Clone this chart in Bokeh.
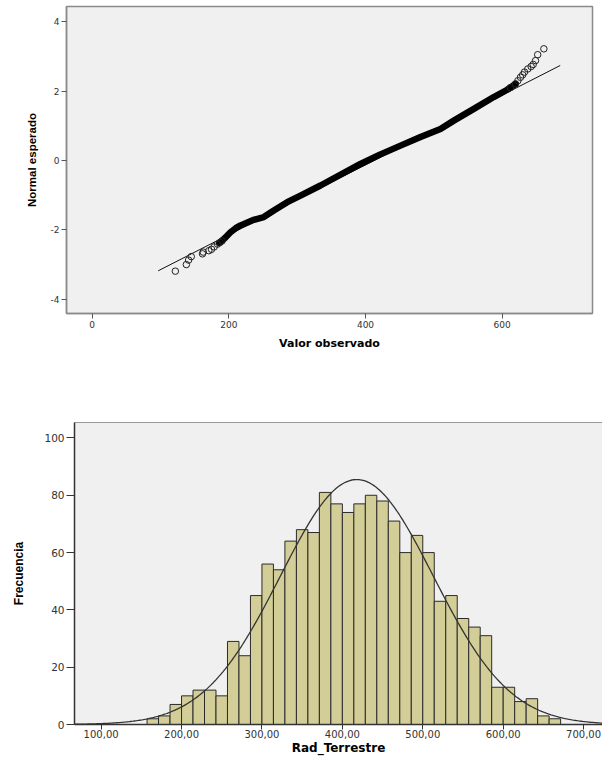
import numpy as np
from bokeh.plotting import figure
from bokeh.layouts import column
from bokeh.models import Range1d, FixedTicker, LinearAxis
from bokeh.embed import file_html
from bokeh.resources import INLINE

# ---------------- Normal Q-Q plot of Rad_Terrestre ----------------
# dense central stretch of the plotted points (observed value, expected normal)
qq_band_obs = [186.0, 195.0, 202.4, 210.0, 217.1, 236.5, 251.1, 265.8, 285.4, 304.8,
               334.1, 363.0, 392.6, 421.0, 451.2, 480.5, 509.7, 529.2, 558.5, 587.7,
               607.3, 619.5]
qq_band_exp = [-2.38, -2.22, -2.07, -1.95, -1.87, -1.71, -1.63, -1.44, -1.20, -1.01,
               -0.72, -0.41, -0.10, 0.17, 0.43, 0.68, 0.91, 1.15, 1.49, 1.83,
               2.04, 2.21]
# separated points in the lower tail
qq_low_obs = [121.7, 137.8, 141.1, 145.0, 161.4, 162.5, 170.7, 174.6, 178.5, 183.4, 187.0, 190.0]
qq_low_exp = [-3.19, -3.00, -2.87, -2.77, -2.69, -2.64, -2.60, -2.56, -2.49, -2.41, -2.36, -2.32]
# separated points in the upper tail
qq_high_obs = [612.0, 619.5, 623.0, 626.8, 630.0, 632.7, 637.5, 642.4, 645.4, 648.8, 652.0, 661.0]
qq_high_exp = [2.10, 2.21, 2.30, 2.40, 2.47, 2.55, 2.64, 2.71, 2.77, 2.88, 3.05, 3.22]
# reference line: expected = (observed - mean) / sd
qq_mean = 412.6
qq_sd = 99.4
qq_line_obs = [96.6, 684.9]

qq_x_ticks = [0, 200, 400, 600]
qq_y_ticks = [-4, -2, 0, 2, 4]
qq_y_labels = ["-4", "-2", "0", "2", "4"]

# ---------------- Histogram of Rad_Terrestre ----------------
bin_start = 157.142857
bin_width = 14.285714
counts = [2, 3, 7, 10, 12, 12, 10, 29, 24, 45, 56, 54, 64, 68, 67, 81, 77, 74,
          77, 80, 78, 71, 60, 66, 60, 43, 45, 37, 34, 31, 13, 13, 8, 9, 3, 2]
curve_mean = 418.0
curve_sd = 95.0

hist_x_ticks = [100, 200, 300, 400, 500, 600, 700]
hist_x_labels = ["100,00", "200,00", "300,00", "400,00", "500,00", "600,00", "700,00"]
hist_y_ticks = [0, 20, 40, 60, 80, 100]

NARROW = "Liberation Sans"
WIDE = "DejaVu Sans"


def style_axis(ax, line_color, tick_color, label_size, tick_out, label_standoff):
    ax.axis_line_color = line_color
    ax.axis_line_width = 1.5
    ax.major_tick_line_color = tick_color
    ax.major_tick_in = 0
    ax.major_tick_out = tick_out
    ax.minor_tick_line_color = None
    ax.major_label_text_font = WIDE
    ax.major_label_text_font_size = label_size
    ax.major_label_text_color = "#333333"
    ax.major_label_standoff = label_standoff
    ax.axis_label_text_color = "#000000"
    ax.axis_label_text_font_style = "bold"


# ---------- top figure ----------
p1 = figure(width=602, height=398,
            x_range=Range1d(-37.6, 732.2), y_range=Range1d(-4.41, 4.44),
            output_backend="svg", toolbar_location=None, frame_align=False,
            min_border_left=66, min_border_right=10,
            min_border_top=6, min_border_bottom=85)
p1.background_fill_color = "#f0f0f0"
p1.border_fill_color = "white"
p1.outline_line_color = "#8a8a8a"
p1.outline_line_width = 1.5
p1.xgrid.visible = False
p1.ygrid.visible = False

line_x = np.array(qq_line_obs)
p1.line(line_x, (line_x - qq_mean) / qq_sd, line_color="#111111", line_width=1)
p1.line(qq_band_obs, qq_band_exp, line_color="#000000", line_width=6.5,
        line_cap="round", line_join="round")
p1.scatter(qq_low_obs, qq_low_exp, marker="circle", size=6.5,
           fill_color=None, line_color="#222222", line_width=1)
p1.scatter(qq_high_obs, qq_high_exp, marker="circle", size=6.5,
           fill_color=None, line_color="#222222", line_width=1)

xa1 = p1.below[0]
ya1 = p1.left[0]
style_axis(xa1, "#8a8a8a", "#555555", "9px", 5, 2)
style_axis(ya1, "#8a8a8a", "#555555", "9px", 5, 2)
xa1.ticker = FixedTicker(ticks=qq_x_ticks)
ya1.ticker = FixedTicker(ticks=qq_y_ticks)
ya1.major_label_overrides = {t: s for t, s in zip(qq_y_ticks, qq_y_labels)}
xa1.axis_label = "Valor observado"
xa1.axis_label_text_font = WIDE
xa1.axis_label_text_font_size = "11px"
xa1.axis_label_standoff = 6
ya1.axis_label = "Normal esperado"
ya1.axis_label_text_font = NARROW
ya1.axis_label_text_font_size = "11.5px"
ya1.axis_label_standoff = 10

# ---------- bottom figure ----------
p2 = figure(width=602, height=359,
            x_range=Range1d(66.9, 723.5), y_range=Range1d(0, 105.4),
            output_backend="svg", toolbar_location=None, frame_align=False,
            min_border_left=74, min_border_right=0,
            min_border_top=24, min_border_bottom=32)
p2.background_fill_color = "#f0f0f0"
p2.border_fill_color = "white"
p2.outline_line_color = None
p2.xgrid.visible = False
p2.ygrid.visible = False

lefts = bin_start + bin_width * np.arange(len(counts))
p2.quad(left=lefts, right=lefts + bin_width, bottom=0, top=counts,
        fill_color="#d3ce97", line_color="#2b2b2b", line_width=1)

n_total = sum(counts)
cx = np.linspace(66.9, 723.5, 400)
cy = n_total * bin_width * np.exp(-0.5 * ((cx - curve_mean) / curve_sd) ** 2) / (curve_sd * np.sqrt(2 * np.pi))
p2.line(cx, cy, line_color="#333333", line_width=1.3)

xa2 = p2.below[0]
ya2 = p2.left[0]
style_axis(xa2, "#333333", "#333333", "10px", 5, 0)
style_axis(ya2, "#333333", "#333333", "10.5px", 8, 2)
xa2.ticker = FixedTicker(ticks=hist_x_ticks)
xa2.major_label_overrides = {t: s for t, s in zip(hist_x_ticks, hist_x_labels)}
xa2.axis_label = "Rad_Terrestre"
xa2.axis_label_text_font = WIDE
xa2.axis_label_text_font_size = "12px"
xa2.axis_label_standoff = 0
ya2.ticker = FixedTicker(ticks=hist_y_ticks)
ya2.axis_label = "Frecuencia"
ya2.axis_label_text_font = NARROW
ya2.axis_label_text_font_size = "12px"
ya2.axis_label_standoff = 15

# plain line along the top edge of the plotting area
top_edge = LinearAxis(ticker=FixedTicker(ticks=[]), axis_line_color="#9a9a9a",
                      axis_line_width=1.2, major_tick_line_color=None,
                      minor_tick_line_color=None, major_label_text_font_size="0px")
p2.add_layout(top_edge, "above")

layout = column(p1, p2, spacing=0)
open("out.html", "w").write(file_html(layout, INLINE))
